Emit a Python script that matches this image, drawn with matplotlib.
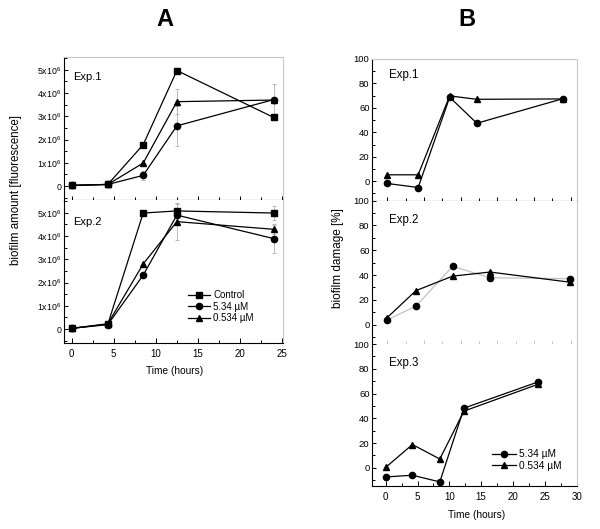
import numpy as np
import matplotlib.pyplot as plt
from matplotlib.ticker import MultipleLocator, FixedLocator

plt.rcParams['font.family'] = ['Liberation Sans', 'DejaVu Sans']
plt.rcParams['mathtext.fontset'] = 'custom'
plt.rcParams['mathtext.rm'] = 'Liberation Sans'
plt.rcParams['mathtext.it'] = 'Liberation Sans'

# Panel A: biofilm amount (fluorescence)
a_time = [0, 4.3, 8.5, 12.5, 24]
a1_control = [0.03e6, 0.07e6, 1.78e6, 4.97e6, 2.95e6]
a1_high = [0.03e6, 0.07e6, 0.46e6, 2.59e6, 3.72e6]
a1_high_err = [0, 0, 0.2e6, 0.85e6, 0.65e6]
a1_low = [0.03e6, 0.07e6, 0.99e6, 3.63e6, 3.70e6]
a1_low_err = [0, 0, 0, 0.55e6, 0]

a2_control = [0.03e6, 0.21e6, 4.99e6, 5.08e6, 4.99e6]
a2_control_err = [0, 0, 0, 0.3e6, 0.3e6]
a2_high = [0.03e6, 0.19e6, 2.32e6, 4.90e6, 3.89e6]
a2_high_err = [0, 0, 0, 0, 0.62e6]
a2_low = [0.03e6, 0.23e6, 2.80e6, 4.62e6, 4.29e6]
a2_low_err = [0, 0, 0, 0.8e6, 0.2e6]

a_yticks = [0, 1e6, 2e6, 3e6, 4e6, 5e6]
a_yticklabels = ['0', r'$1\mathrm{x}10^6$', r'$2\mathrm{x}10^6$',
                 r'$3\mathrm{x}10^6$', r'$4\mathrm{x}10^6$', r'$5\mathrm{x}10^6$']

# Panel B: biofilm damage (%)
b1_time = [0, 4.2, 8.5, 12.2, 24]
b1_high = [-1.9, -5.2, 68.7, 47.4, 67.6]
b1_low = [5.2, 5.2, 69.8, 67.0, 67.3]

b2_time = [0, 3.9, 8.9, 14.0, 24.9]
b2_high = [3.8, 14.9, 47.0, 37.8, 37.0]
b2_low = [5.7, 27.4, 39.1, 42.4, 34.2]

b3_time = [0, 4.2, 8.5, 12.3, 24]
b3_high = [-7.4, -6.0, -11.4, 48.2, 69.5]
b3_low = [0.3, 18.8, 7.1, 45.8, 67.6]

GRAY = '#c8c8c8'
ERR = '#b0b0b0'

fig = plt.figure(figsize=(6, 5.29), dpi=100)


def style(ax, bottom_color='black', ysize=6):
    ax.spines['left'].set_color('black')
    ax.spines['bottom'].set_color(bottom_color)
    ax.spines['right'].set_color(GRAY)
    ax.spines['top'].set_color(GRAY)
    for s in ax.spines.values():
        s.set_linewidth(0.8)
    ax.tick_params(axis='y', which='both', direction='in', left=True, right=False,
                   labelsize=ysize, pad=2, width=0.7)
    ax.tick_params(axis='y', which='major', length=3)
    ax.tick_params(axis='y', which='minor', length=1.8)
    ax.tick_params(axis='x', which='both', top=False, labelsize=7, width=0.7,
                   color=bottom_color, pad=4.5)
    ax.tick_params(axis='x', which='major', length=3.5)
    ax.tick_params(axis='x', which='minor', length=2)


def line(ax, t, y, marker, ms, color='black', lc='black', err=None):
    ax.plot(t, y, color=lc, lw=0.9, zorder=2)
    if err is not None:
        ax.errorbar(t, y, yerr=err, fmt='none', ecolor=ERR, elinewidth=0.6,
                    capsize=1.5, capthick=0.6, zorder=1)
    ax.plot(t, y, linestyle='none', marker=marker, ms=ms, color=color, zorder=3)


# ---- Panel A ----
axA1 = fig.add_axes([0.1067, 0.6219, 0.365, 0.2703])
axA2 = fig.add_axes([0.1067, 0.3516, 0.365, 0.2703])

for ax in (axA1, axA2):
    ax.set_xlim(-0.9, 25.1)
    ax.set_ylim(-0.6e6, 5.55e6)
    ax.xaxis.set_major_locator(MultipleLocator(5))
    ax.xaxis.set_minor_locator(MultipleLocator(2.5))
    ax.set_yticks(a_yticks)
    ax.set_yticklabels(a_yticklabels)
    ax.yaxis.set_minor_locator(MultipleLocator(0.5e6))

style(axA1, ysize=6.3)
style(axA2, ysize=6.3)
axA1.tick_params(axis='x', which='both', direction='inout', labelbottom=False)
axA1.tick_params(axis='x', which='major', length=6)
axA1.tick_params(axis='x', which='minor', length=4)
axA2.spines['top'].set_visible(False)
axA2.tick_params(axis='x', which='both', direction='in')

line(axA1, a_time, a1_control, 's', 4.2)
line(axA1, a_time, a1_low, '^', 5, err=a1_low_err)
line(axA1, a_time, a1_high, 'o', 4.5, err=a1_high_err)
axA1.text(0.04, 0.86, 'Exp.1', transform=axA1.transAxes, fontsize=8, va='center')

l1, = axA2.plot([], [], color='black', lw=0.9, marker='s', ms=4.2, label='Control')
l2, = axA2.plot([], [], color='black', lw=0.9, marker='o', ms=4.5, label='5.34 µM')
l3, = axA2.plot([], [], color='black', lw=0.9, marker='^', ms=5, label='0.534 µM')
line(axA2, a_time, a2_control, 's', 4.2, err=a2_control_err)
line(axA2, a_time, a2_low, '^', 5, err=a2_low_err)
line(axA2, a_time, a2_high, 'o', 4.5, err=a2_high_err)
axA2.text(0.04, 0.846, 'Exp.2', transform=axA2.transAxes, fontsize=8, va='center')
axA2.legend(handles=[l1, l2, l3], loc='upper left', bbox_to_anchor=(0.565, 0.37),
            frameon=False, fontsize=7, borderpad=0, borderaxespad=0,
            handlelength=2.3, handletextpad=0.3, labelspacing=0.15)

fig.text(16 / 600, 1 - 190 / 529, 'biofilm amount [fluorescence]', rotation=90,
         ha='center', va='center', fontsize=8.3)
fig.text(175 / 600, 1 - 371 / 529, 'Time (hours)', ha='center', va='center', fontsize=7.3)
fig.text(165 / 600, 1 - 20 / 529, 'A', ha='center', va='center', fontsize=17,
         fontweight='bold')

# ---- Panel B ----
axB1 = fig.add_axes([0.6205, 0.6206, 0.3417, 0.2679])
axB2 = fig.add_axes([0.6205, 0.3497, 0.3417, 0.2709])
axB3 = fig.add_axes([0.6205, 0.0813, 0.3417, 0.2684])

axB1.set_xlim(-2.05, 25.9)
axB2.set_xlim(-2.05, 25.9)
axB3.set_xlim(-2.1, 30.1)
axB1.set_ylim(-16, 100)
axB2.set_ylim(-15.7, 100)
axB3.set_ylim(-14.7, 100)
for ax in (axB1, axB2, axB3):
    ax.xaxis.set_major_locator(MultipleLocator(5))
    ax.xaxis.set_minor_locator(MultipleLocator(2.5))
    ax.yaxis.set_major_locator(MultipleLocator(20))
    ax.yaxis.set_minor_locator(MultipleLocator(10))

style(axB1, ysize=6.8)
style(axB2, bottom_color=GRAY, ysize=6.8)
style(axB3, ysize=6.8)
for ax in (axB1, axB2):
    ax.tick_params(axis='x', which='both', direction='inout', labelbottom=False)
    ax.tick_params(axis='x', which='major', length=6)
    ax.tick_params(axis='x', which='minor', length=4)
axB2.spines['top'].set_visible(False)
axB3.spines['top'].set_visible(False)
axB3.tick_params(axis='x', which='both', direction='in')

line(axB1, b1_time, b1_low, '^', 5)
line(axB1, b1_time, b1_high, 'o', 4.5)
axB1.text(0.083, 0.887, 'Exp.1', transform=axB1.transAxes, fontsize=8.3, va='center')

line(axB2, b2_time, b2_high, 'o', 4.5, lc='#c0c0c0')
line(axB2, b2_time, b2_low, '^', 5)
axB2.text(0.083, 0.865, 'Exp.2', transform=axB2.transAxes, fontsize=8.3, va='center')

line(axB3, b3_time, b3_high, 'o', 4.5)
line(axB3, b3_time, b3_low, '^', 5)
axB3.text(0.083, 0.866, 'Exp.3', transform=axB3.transAxes, fontsize=8.3, va='center')
m1, = axB3.plot([], [], color='black', lw=0.9, marker='o', ms=4.5, label='5.34 µM')
m2, = axB3.plot([], [], color='black', lw=0.9, marker='^', ms=5, label='0.534 µM')
axB3.legend(handles=[m1, m2], loc='upper left', bbox_to_anchor=(0.585, 0.26),
            frameon=False, fontsize=7.3, borderpad=0, borderaxespad=0,
            handlelength=2.3, handletextpad=0.3, labelspacing=0.15)

fig.text(338 / 600, 1 - 258 / 529, 'biofilm damage [%]', rotation=90,
         ha='center', va='center', fontsize=8.5)
fig.text(477 / 600, 1 - 515 / 529, 'Time (hours)', ha='center', va='center', fontsize=7.3)
fig.text(467 / 600, 1 - 20 / 529, 'B', ha='center', va='center', fontsize=17,
         fontweight='bold')

fig.savefig('out.png', dpi=100)
